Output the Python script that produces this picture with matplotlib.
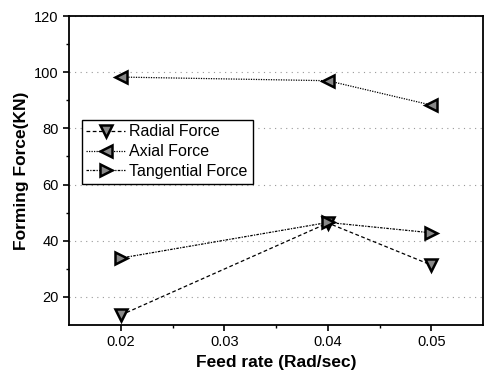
import matplotlib.pyplot as plt
import numpy as np

plt.rcParams['font.family'] = ['Liberation Sans', 'DejaVu Sans']

# Data
feed_rate = [0.02, 0.04, 0.05]
radial_force = [13.5, 46.3, 31.3]
axial_force = [98.3, 97.0, 88.3]
tangential_force = [33.8, 46.5, 42.8]

fig = plt.figure(figsize=(4.87, 3.76), dpi=100)
ax = fig.add_axes([0.142, 0.136, 0.850, 0.821])

marker_style = dict(markersize=9, markerfacecolor='#888888', markeredgecolor='black',
                    markeredgewidth=1.8)
ax.plot(feed_rate, radial_force, color='black', linestyle=(0, (3, 2)), linewidth=0.9,
        marker='v', label='Radial Force', **marker_style)
ax.plot(feed_rate, axial_force, color='black', linestyle=(0, (1, 1)), linewidth=0.9,
        marker='<', label='Axial Force', **marker_style)
ax.plot(feed_rate, tangential_force, color='black', linestyle=(0, (2, 1, 1, 1)), linewidth=0.9,
        marker='>', label='Tangential Force', **marker_style)

ax.set_xlim(0.015, 0.055)
ax.set_ylim(10, 120)
ax.set_xticks([0.02, 0.03, 0.04, 0.05])
ax.set_xticklabels(['0.02', '0.03', '0.04', '0.05'])
ax.set_xticks(np.arange(0.025, 0.055, 0.01), minor=True)
ax.set_yticks([20, 40, 60, 80, 100, 120])
ax.set_yticks([30, 50, 70, 90, 110], minor=True)

ax.grid(axis='y', which='major', color='#999999', linestyle=(0, (1, 4)), linewidth=0.8)
ax.tick_params(which='major', direction='out', length=4, width=1.2, labelsize=10.5)
ax.tick_params(which='minor', direction='out', length=2.5, width=1.0)
for sp in ax.spines.values():
    sp.set_linewidth(1.3)

ax.set_xlabel('Feed rate (Rad/sec)', fontsize=12.5, fontweight='bold')
ax.set_ylabel('Forming Force(KN)', fontsize=12.5, fontweight='bold')

leg = ax.legend(loc='upper left', bbox_to_anchor=(0.03, 0.665), fontsize=11.5,
                fancybox=False, framealpha=1, edgecolor='black', handlelength=2.4,
                borderpad=0.3, labelspacing=0.3, handletextpad=0.3, borderaxespad=0)
leg.get_frame().set_linewidth(1.0)

fig.savefig('out.png', dpi=100)
